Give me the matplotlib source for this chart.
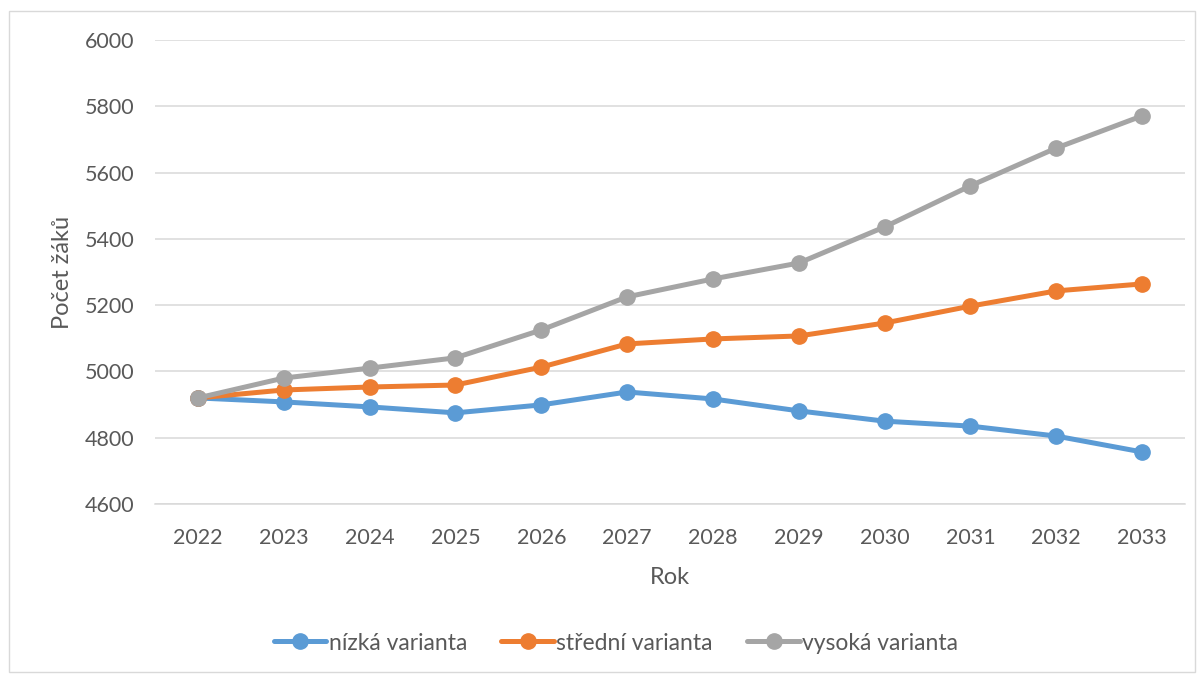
import matplotlib
matplotlib.use("Agg")
import matplotlib.pyplot as plt
from matplotlib.patches import Rectangle

years = ["2022", "2023", "2024", "2025", "2026", "2027", "2028", "2029", "2030", "2031", "2032", "2033"]
nizka = [4920, 4908, 4893, 4875, 4899, 4938, 4917, 4881, 4850, 4835, 4805, 4757]
stredni = [4920, 4944, 4953, 4959, 5013, 5083, 5098, 5107, 5146, 5197, 5243, 5264]
vysoka = [4920, 4980, 5010, 5041, 5125, 5225, 5279, 5327, 5436, 5560, 5674, 5771]
series_names = ["nízká varianta", "střední varianta", "vysoká varianta"]
colors = ["#5B9BD5", "#ED7D31", "#A5A5A5"]

plt.rcParams['font.family'] = ['Lato', 'DejaVu Sans']
W, H = 1202, 675
fig = plt.figure(figsize=(W / 100, H / 100), dpi=100)
ax = fig.add_axes([155 / W, 1 - 504 / H, (1185 - 155) / W, (504 - 40) / H])

x = list(range(len(years)))
for vals, name, c in zip([nizka, stredni, vysoka], series_names, colors):
    ax.plot(x, vals, color=c, lw=3.6, marker='o', markersize=11, label=name,
            solid_capstyle='round', zorder=3)

ax.set_xlim(-0.5, len(years) - 0.5)
ax.set_ylim(4600, 6000)
ax.set_yticks(range(4600, 6001, 200))
ax.set_xticks(x)
ax.set_xticklabels(years)
ax.grid(axis='y', color='#D9D9D9', lw=1.1, zorder=0)
ax.set_axisbelow(True)
for s in ['top', 'right', 'left']:
    ax.spines[s].set_visible(False)
ax.spines['bottom'].set_color('#D9D9D9')
ax.spines['bottom'].set_linewidth(1.1)
ax.tick_params(axis='both', length=0, labelsize=15.5, colors='#595959')
ax.tick_params(axis='y', pad=15)
ax.tick_params(axis='x', pad=17)
ax.set_xlabel("Rok", fontsize=17, color='#595959', labelpad=14)
ax.set_ylabel("Počet žáků", fontsize=17, color='#595959', labelpad=8)

leg = fig.legend(loc='center', bbox_to_anchor=(616 / W, 1 - 643 / H), ncol=3,
                 frameon=False, fontsize=16.5, handlelength=2.3, handletextpad=0.1,
                 columnspacing=1.5, labelcolor='#595959')

fig.patches.append(Rectangle((9 / W, 1 - 672 / H), (1195 - 9) / W, (672 - 11) / H,
                             transform=fig.transFigure, fill=False,
                             edgecolor='#D9D9D9', lw=1.0))

fig.savefig("out.png", dpi=100, facecolor='white')
